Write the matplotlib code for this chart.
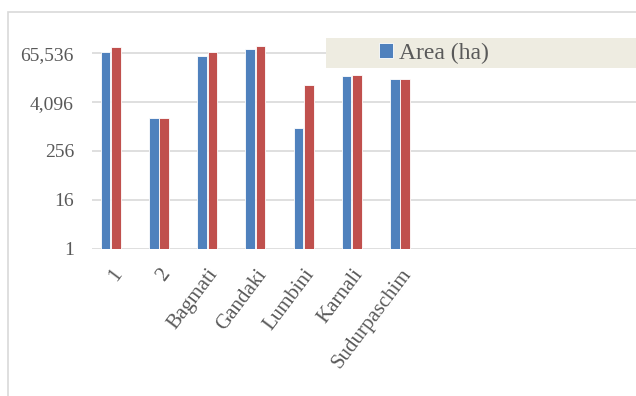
import matplotlib.pyplot as plt
from matplotlib.patches import Rectangle
from matplotlib.transforms import ScaledTranslation
import numpy as np

categories = ['1', '2', 'Bagmati', 'Gandaki', 'Lumbini', 'Karnali', 'Sudurpaschim']
area_a = [69300, 1635, 57200, 83700, 945, 18060, 15240]
area_b = [93700, 1635, 69300, 97000, 10650, 19130, 15240]
yticks = [1, 16, 256, 4096, 65536]

W, H = 636, 396
plt.rcParams['font.family'] = ['Liberation Serif', 'DejaVu Serif']
fig = plt.figure(figsize=(W / 100, H / 100), dpi=100)

# chart border (cropped on right and bottom)
fig.patches.append(Rectangle((8 / W, -0.1), 1.2, 1 - 11.5 / H + 0.1,
                             transform=fig.transFigure, facecolor='white',
                             edgecolor='#d9d9d9', linewidth=1.2, zorder=0))

y0, px_per = 248.7, 48.85
top_log = 4.4
ax = fig.add_axes([92 / W, (H - y0) / H, 1 - 92 / W, top_log * px_per / H])
ax.set_zorder(2)
ax.set_facecolor('none')

x = np.arange(len(categories))
bw = 0.2
ax.bar(x - 0.108, area_a, bw, color='#4f81bd', edgecolor='white', linewidth=0.6,
       label='Area (ha)', zorder=3)
ax.bar(x + 0.108, area_b, bw, color='#c0504d', edgecolor='white', linewidth=0.6,
       zorder=3)

ax.set_yscale('log', base=2)
ax.set_ylim(1, 16 ** top_log)
ax.set_yticks(yticks)
ax.set_yticklabels([f'{v:,}' for v in yticks])
ax.minorticks_off()
ax.set_xlim(-0.39, 10.9)
ax.set_xticks(x)
ax.set_xticklabels(categories, rotation=53, ha='right', rotation_mode='anchor',
                   fontsize=15)
for lbl in ax.get_xticklabels():
    lbl.set_transform(lbl.get_transform() + ScaledTranslation(7 / 100, -13 / 100, fig.dpi_scale_trans))

ax.grid(axis='y', color='#d9d9d9', linewidth=1.2, zorder=0)
for s in ax.spines.values():
    s.set_visible(False)
ax.tick_params(length=0, colors='#595959')
ax.tick_params(axis='y', pad=13, labelsize=14)
ax.tick_params(axis='x', pad=12)

# legend band
fig.patches.append(Rectangle((326 / W, 1 - 68 / H), 1, 30 / H, transform=fig.transFigure,
                             facecolor='#eeece1', edgecolor='none', zorder=3))
leg = fig.legend(loc='center left', bbox_to_anchor=(367 / W, 1 - 53 / H), frameon=False,
                 fontsize=17, handlelength=0.6, handleheight=0.6, handletextpad=0.25,
                 borderpad=0, labelcolor='#595959')
leg.set_zorder(4)

fig.savefig('out.png', dpi=100)
